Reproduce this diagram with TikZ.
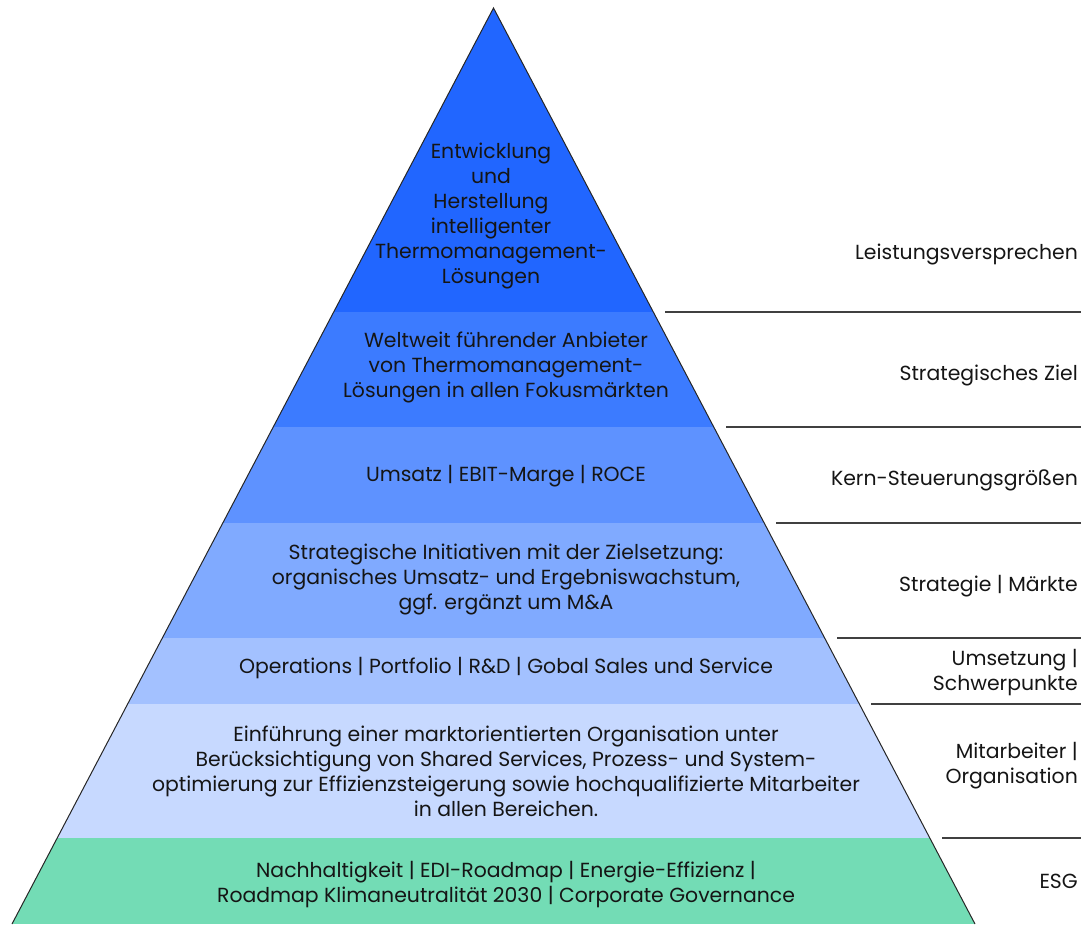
\documentclass[tikz,border=0pt]{standalone}
\usepackage{fontspec}
\setmainfont{Poppins}
\definecolor{bA}{HTML}{2166FF}
\definecolor{bB}{HTML}{3C7BFF}
\definecolor{bC}{HTML}{5E92FF}
\definecolor{bD}{HTML}{80AAFF}
\definecolor{bE}{HTML}{A3C1FF}
\definecolor{bF}{HTML}{C7D9FF}
\definecolor{bG}{HTML}{73DCB5}
\definecolor{txt}{HTML}{151515}
\definecolor{rule}{HTML}{404040}
\tikzset{
  bandtext/.style={align=center, text=txt, font=\fontsize{20.4}{25}\selectfont, inner sep=0pt},
  sidetext/.style={align=right, anchor=east, text=txt, font=\fontsize{20.4}{25}\selectfont, inner sep=0pt},
  sep/.style={draw=rule, line width=1.6pt},
  edge/.style={draw=black!85, line width=1pt}
}
\begin{document}
\begin{tikzpicture}[x=1pt,y=-1pt]
\useasboundingbox (0,0) rectangle (1081,924);
\coordinate (apex) at (493.5,8);
\coordinate (bl) at (12,924);
\coordinate (br) at (975,924);
\begin{scope}
  \clip (apex) -- (br) -- (bl) -- cycle;
  \fill[bA] (0,0) rectangle (1081,312);
  \fill[bB] (0,312) rectangle (1081,427);
  \fill[bC] (0,427) rectangle (1081,523);
  \fill[bD] (0,523) rectangle (1081,638);
  \fill[bE] (0,638) rectangle (1081,704);
  \fill[bF] (0,704) rectangle (1081,838);
  \fill[bG] (0,838) rectangle (1081,924);
\end{scope}
\draw[edge] (bl) -- (apex) -- (br);
% separator lines
\coordinate (s1) at (665,312); \coordinate (e1) at (1081,312);
\coordinate (s2) at (726,427); \coordinate (e2) at (1081,427);
\coordinate (s3) at (776,523); \coordinate (e3) at (1081,523);
\coordinate (s4) at (837,638); \coordinate (e4) at (1081,638);
\coordinate (s5) at (871,704); \coordinate (e5) at (1081,704);
\coordinate (s6) at (942,838); \coordinate (e6) at (1081,838);
\draw[sep] (s1) -- (e1);
\draw[sep] (s2) -- (e2);
\draw[sep] (s3) -- (e3);
\draw[sep] (s4) -- (e4);
\draw[sep] (s5) -- (e5);
\draw[sep] (s6) -- (e6);
% band texts
\node[bandtext] (t1) at (491,216) {Entwicklung\\und\\Herstellung\\intelligenter\\Thermomanagement-\\Lösungen};
\node[bandtext] (t2) at (506,367) {Weltweit führender Anbieter\\von Thermomanagement-\\Lösungen in allen Fokusmärkten};
\node[bandtext] (t3) at (506,476) {Umsatz | EBIT-Marge | ROCE};
\node[bandtext] (t4) at (506,579) {Strategische Initiativen mit der Zielsetzung:\\organisches Umsatz- und Ergebniswachstum,\\ggf. ergänzt um M\&A};
\node[bandtext] (t5) at (506,668) {Operations | Portfolio | R\&D | Gobal Sales und Service};
\node[bandtext] (t6) at (506,771) {Einführung einer marktorientierten Organisation unter\\Berücksichtigung von Shared Services, Prozess- und System-\\optimierung zur Effizienzsteigerung sowie hochqualifizierte Mitarbeiter\\in allen Bereichen.};
\node[bandtext] (t7) at (506,885) {Nachhaltigkeit | EDI-Roadmap | Energie-Effizienz |\\Roadmap Klimaneutralität 2030 | Corporate Governance};
% side labels
\node[sidetext] (l1) at (1078,254) {Leistungsversprechen};
\node[sidetext] (l2) at (1078,375) {Strategisches Ziel};
\node[sidetext] (l3) at (1078,480) {Kern-Steuerungsgrößen};
\node[sidetext] (l4) at (1078,586) {Strategie | Märkte};
\node[sidetext] (l5) at (1078,673) {Umsetzung |\\Schwerpunkte};
\node[sidetext] (l6) at (1078,766) {Mitarbeiter |\\Organisation};
\node[sidetext] (l7) at (1078,881) {ESG};
\end{tikzpicture}
\end{document}
